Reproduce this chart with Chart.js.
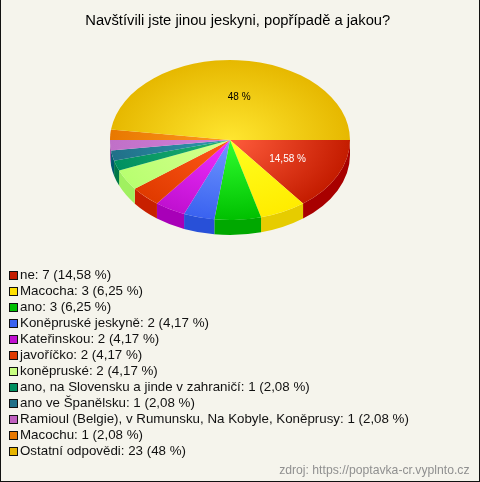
<!DOCTYPE html>
<html>
<head>
<meta charset="utf-8">
<style>
  html, body { margin: 0; padding: 0; background: #f5f4ec; }
  #wrap { position: relative; width: 480px; height: 482px; }
  canvas { display: block; }
  #frame { position: absolute; left: 0; top: 0; width: 478px; height: 481px; border: 1px solid #111; border-top: 0; pointer-events: none; }
</style>
<script src="https://cdn.jsdelivr.net/npm/chart.js@4"></script>
</head>
<body>
<div id="wrap">
  <canvas id="pie" width="480" height="482"></canvas>
  <div id="frame"></div>
</div>
<script>
const categories = ['ne', 'Macocha', 'ano', 'Koněpruské jeskyně', 'Kateřinskou', 'javoříčko', 'koněpruské',
  'ano, na Slovensku a jinde v zahraničí', 'ano ve Španělsku', 'Ramioul (Belgie), v Rumunsku, Na Kobyle, Koněprusy',
  'Macochu', 'Ostatní odpovědi'];
const counts = [7, 3, 3, 2, 2, 2, 2, 1, 1, 1, 1, 23];
const percents = ['14,58', '6,25', '6,25', '4,17', '4,17', '4,17', '4,17', '2,08', '2,08', '2,08', '2,08', '48'];
const titleText = 'Navštívili jste jinou jeskyni, popřípadě a jakou?';
const sourceText = 'zdroj: https://poptavka-cr.vyplnto.cz';

// colours of the slices: centre of the gradient, rim, side wall, legend box
const innerColors = ['#ff5c3c', '#ffff20', '#30ff30', '#7098ff', '#f030ff', '#ff5a18', '#d8ff90', '#20b070', '#3098b0', '#d080d8', '#ff9a20', '#ffe630'];
const outerColors = ['#c41c00', '#ffec00', '#00c000', '#3a62f0', '#c010d0', '#e03a00', '#b8ff70', '#009060', '#207088', '#c070c8', '#e87800', '#e6b800'];
const wallColors = ['#a80000', '#e6cc00', '#00a800', '#2850d8', '#a800b8', '#c82000', '#a0f060', '#007848', '#005a70', '#a058a8', '#c86000', '#c89000'];
const boxColors = ['#c41c00', '#ffe000', '#00c000', '#3a62f0', '#c010d0', '#e03a00', '#c8ff80', '#009060', '#207088', '#c060c0', '#e87800', '#e6b400'];

const pieCenterX = 230;
const pieCenterY = 140;
const pieRadius = 120;
const squash = 2 / 3;
const depth = 15;

function sliceGradient(ctx) {
  const area = ctx.chart.chartArea;
  if (!area) return outerColors[ctx.dataIndex];
  const cx = (area.left + area.right) / 2, cy = (area.top + area.bottom) / 2;
  const g = ctx.chart.ctx.createRadialGradient(cx, cy, 0, cx, cy, pieRadius);
  g.addColorStop(0, innerColors[ctx.dataIndex]);
  g.addColorStop(1, outerColors[ctx.dataIndex]);
  return g;
}

const pie3d = {
  id: 'pie3d',
  beforeDatasetsDraw(chart) {
    const ctx = chart.ctx;
    const arcs = chart.getDatasetMeta(0).data;
    ctx.save();
    // side wall of the front half
    arcs.forEach((arc, i) => {
      const a0 = Math.max(arc.startAngle, 0);
      const a1 = Math.min(arc.endAngle, Math.PI);
      if (a1 <= a0) return;
      const rx = arc.outerRadius, ry = rx * squash;
      ctx.beginPath();
      ctx.ellipse(pieCenterX, pieCenterY, rx, ry, 0, a0, a1);
      ctx.ellipse(pieCenterX, pieCenterY + depth, rx, ry, 0, a1, a0, true);
      ctx.closePath();
      ctx.fillStyle = wallColors[i];
      ctx.fill();
    });
    // squash the circle the library draws into the top ellipse
    ctx.translate(pieCenterX, pieCenterY);
    ctx.scale(1, squash);
    ctx.translate(-arcs[0].x, -arcs[0].y);
  },
  afterDatasetsDraw(chart) {
    const ctx = chart.ctx;
    ctx.restore();
    const arcs = chart.getDatasetMeta(0).data;
    ctx.save();
    ctx.font = '10px "Liberation Sans"';
    ctx.textAlign = 'center';
    ctx.textBaseline = 'middle';
    arcs.forEach((arc, i) => {
      if (counts[i] < 5) return;
      const mid = (arc.startAngle + arc.endAngle) / 2;
      const r = arc.outerRadius * 0.535;
      ctx.fillStyle = i === 0 ? '#fff' : '#000';
      const nudge = i === 0 ? 0 : 5;
      ctx.fillText(percents[i] + ' %', pieCenterX + r * Math.cos(mid) + nudge, pieCenterY + r * squash * Math.sin(mid));
    });
    ctx.restore();
  },
  afterDraw(chart) {
    // one legend row per slice
    const ctx = chart.ctx;
    ctx.save();
    ctx.font = '13.33px "Liberation Sans"';
    ctx.textBaseline = 'middle';
    ctx.textAlign = 'left';
    categories.forEach((name, i) => {
      const y = 275 + i * 16;
      ctx.fillStyle = boxColors[i];
      ctx.fillRect(10, y - 3, 7, 7);
      ctx.strokeStyle = '#111';
      ctx.lineWidth = 1;
      ctx.strokeRect(9.5, y - 3.5, 8, 8);
      ctx.fillStyle = '#111';
      ctx.fillText(name + ': ' + counts[i] + ' (' + percents[i] + ' %)', 20, y);
    });
    ctx.restore();
  }
};

new Chart(document.getElementById('pie'), {
  type: 'pie',
  data: {
    labels: categories,
    datasets: [{
      data: counts,
      borderWidth: 0,
      radius: pieRadius,
      backgroundColor: sliceGradient
    }]
  },
  options: {
    responsive: false,
    animation: false,
    rotation: 90,
    layout: { padding: { left: 6, right: 10.5, top: 0, bottom: 4 } },
    plugins: {
      legend: { display: false },
      tooltip: { enabled: false },
      title: {
        display: true,
        text: titleText,
        color: '#000',
        font: { family: '"Liberation Sans"', size: 14.75, weight: 'normal' },
        padding: { top: 12, bottom: 8 }
      },
      subtitle: {
        display: true,
        position: 'bottom',
        align: 'end',
        text: sourceText,
        color: '#909090',
        font: { family: '"Liberation Sans"', size: 12.2, weight: 'normal' },
        padding: { top: 0, bottom: 0 }
      }
    }
  },
  plugins: [pie3d]
});
</script>
</body>
</html>
